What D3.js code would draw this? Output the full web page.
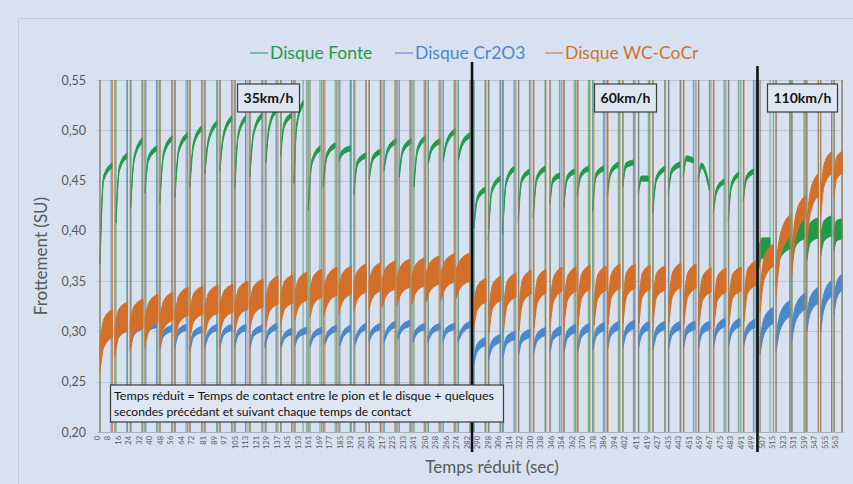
<!DOCTYPE html>
<html>
<head>
<meta charset="utf-8">
<script src="https://cdn.jsdelivr.net/npm/d3@7"></script>
<style>
  html, body { margin: 0; padding: 0; background: #d8e1f0; }
  svg { display: block; font-family: Lato, "Open Sans", sans-serif; }
</style>
</head>
<body>
<svg id="chart" width="853" height="484"></svg>
<script>
// ---- data -------------------------------------------------------------
// Speed zones (boundaries in reduced time, seconds)
const speedBreaks = [285.9, 503.5];
const zoneLabels = ["35km/h", "60km/h", "110km/h"];

// Axis ticks
const yTicks = [0.20, 0.25, 0.30, 0.35, 0.40, 0.45, 0.50, 0.55];
const xTickLabels = [0, 8, 16, 24, 32, 40, 48, 56, 64, 72, 81, 89, 97, 105, 113, 121, 129, 137,
  145, 153, 161, 169, 177, 185, 193, 201, 209, 217, 225, 233, 241, 250, 258, 266, 274, 282,
  290, 298, 306, 314, 322, 330, 338, 346, 354, 362, 370, 378, 386, 394, 402, 411, 419, 427,
  435, 443, 451, 459, 467, 475, 483, 491, 499, 507, 515, 523, 531, 539, 547, 555, 563];

// Contact cycles: [t start, t end, friction at start, friction at knee, friction at end]
const fonteCycles = [
  [2.3, 11.4, 0.370, 0.452, 0.465], [14.5, 22.9, 0.410, 0.462, 0.475], [25.7, 34.5, 0.425, 0.472, 0.490],
  [36.6, 45.5, 0.440, 0.472, 0.482], [48.0, 57.0, 0.430, 0.476, 0.492], [59.5, 68.8, 0.436, 0.480, 0.495],
  [70.9, 79.8, 0.446, 0.486, 0.502], [82.3, 91.3, 0.459, 0.490, 0.507], [93.8, 102.7, 0.462, 0.495, 0.512],
  [105.2, 113.2, 0.445, 0.495, 0.512], [116.6, 125.8, 0.456, 0.497, 0.515], [128.8, 136.5, 0.470, 0.502, 0.520],
  [140.1, 148.4, 0.477, 0.505, 0.515], [150.2, 157.1, 0.450, 0.505, 0.527], [161.1, 170.0, 0.423, 0.468, 0.482],
  [172.5, 181.5, 0.446, 0.475, 0.485], [184.5, 193.4, 0.472, 0.478, 0.482], [195.9, 205.1, 0.439, 0.468, 0.475],
  [207.6, 216.3, 0.453, 0.472, 0.479], [218.8, 228.0, 0.462, 0.480, 0.489], [230.5, 239.4, 0.456, 0.480, 0.489],
  [241.7, 250.1, 0.446, 0.480, 0.492], [252.6, 261.5, 0.469, 0.482, 0.489], [264.0, 272.9, 0.472, 0.488, 0.499],
  [275.5, 284.4, 0.472, 0.486, 0.495],
  [287.4, 295.8, 0.405, 0.432, 0.441], [298.3, 307.2, 0.393, 0.440, 0.452], [309.3, 317.9, 0.399, 0.448, 0.462],
  [321.2, 329.6, 0.412, 0.450, 0.459], [332.6, 341.6, 0.416, 0.452, 0.462], [345.4, 352.5, 0.429, 0.450, 0.455],
  [356.0, 363.7, 0.426, 0.452, 0.459], [366.2, 374.6, 0.436, 0.455, 0.462], [377.9, 386.0, 0.422, 0.455, 0.462],
  [389.1, 397.4, 0.436, 0.458, 0.466], [400.8, 408.9, 0.446, 0.465, 0.468], [412.7, 420.3, 0.439, 0.452, 0.452],
  [423.7, 433.0, 0.420, 0.452, 0.462], [435.6, 444.5, 0.439, 0.460, 0.466], [447.0, 454.6, 0.456, 0.472, 0.470],
  [458.4, 466.8, 0.452, 0.465, 0.443], [469.9, 478.0, 0.419, 0.440, 0.449], [481.3, 488.9, 0.412, 0.445, 0.456],
  [492.7, 500.4, 0.432, 0.452, 0.459],
  [504.3, 513.1, 0.372, 0.383, 0.383], [517.7, 528.3, 0.355, 0.383, 0.392], [529.9, 539.0, 0.375, 0.395, 0.402],
  [541.1, 549.9, 0.380, 0.398, 0.403], [551.7, 560.1, 0.385, 0.400, 0.405], [561.9, 568.0, 0.390, 0.400, 0.402]
];

const cr2o3Cycles = [
  [2.3, 10.7, 0.278, 0.293, 0.300], [13.7, 22.9, 0.284, 0.297, 0.303], [25.9, 34.3, 0.288, 0.300, 0.305],
  [37.4, 45.7, 0.295, 0.304, 0.307], [48.0, 57.2, 0.285, 0.298, 0.303], [59.5, 67.9, 0.287, 0.299, 0.304],
  [70.9, 80.0, 0.283, 0.297, 0.302], [82.3, 91.5, 0.287, 0.298, 0.304], [93.8, 102.9, 0.287, 0.299, 0.304],
  [105.2, 113.6, 0.288, 0.299, 0.304], [116.6, 125.8, 0.286, 0.298, 0.303], [128.1, 137.2, 0.287, 0.299, 0.305],
  [140.3, 148.4, 0.287, 0.295, 0.300], [151.0, 159.9, 0.289, 0.297, 0.301], [162.4, 171.3, 0.287, 0.296, 0.301],
  [173.8, 182.7, 0.290, 0.298, 0.303], [185.3, 192.9, 0.289, 0.297, 0.303], [196.7, 205.1, 0.290, 0.298, 0.305],
  [207.4, 216.3, 0.292, 0.300, 0.305], [218.8, 227.2, 0.292, 0.300, 0.307], [229.5, 238.6, 0.295, 0.303, 0.308],
  [240.9, 250.1, 0.292, 0.300, 0.305], [252.3, 261.5, 0.292, 0.300, 0.305], [263.8, 272.9, 0.293, 0.301, 0.305],
  [275.2, 284.4, 0.292, 0.300, 0.307],
  [287.4, 296.2, 0.272, 0.284, 0.290], [298.5, 307.6, 0.275, 0.287, 0.293], [309.5, 318.7, 0.278, 0.291, 0.296],
  [321.3, 330.1, 0.280, 0.293, 0.298], [332.8, 341.9, 0.281, 0.294, 0.300], [345.4, 353.7, 0.283, 0.296, 0.301],
  [356.0, 364.8, 0.283, 0.297, 0.303], [366.7, 375.5, 0.284, 0.298, 0.304], [378.1, 386.9, 0.286, 0.299, 0.305],
  [389.2, 398.3, 0.286, 0.300, 0.306], [401.0, 409.8, 0.288, 0.301, 0.307], [412.8, 421.2, 0.287, 0.300, 0.306],
  [423.9, 433.0, 0.285, 0.300, 0.306], [435.7, 444.8, 0.286, 0.300, 0.306], [447.1, 455.9, 0.287, 0.301, 0.306],
  [458.6, 467.3, 0.287, 0.301, 0.306], [470.0, 478.8, 0.288, 0.302, 0.309], [481.4, 490.2, 0.288, 0.302, 0.309],
  [492.9, 501.6, 0.289, 0.301, 0.308],
  [505.5, 515.6, 0.285, 0.305, 0.316], [517.7, 528.3, 0.288, 0.310, 0.323], [529.6, 539.8, 0.298, 0.318, 0.330],
  [541.1, 549.9, 0.308, 0.326, 0.336], [551.7, 560.1, 0.308, 0.330, 0.343], [561.9, 568.0, 0.325, 0.340, 0.349]
];

const wcCocrCycles = [
  [2.3, 11.8, 0.275, 0.298, 0.308], [13.7, 23.3, 0.290, 0.308, 0.315], [25.2, 35.1, 0.295, 0.311, 0.318],
  [36.6, 46.5, 0.298, 0.315, 0.323], [48.0, 57.9, 0.300, 0.317, 0.325], [59.5, 69.4, 0.304, 0.322, 0.330],
  [70.9, 80.8, 0.307, 0.324, 0.331], [82.3, 92.2, 0.310, 0.325, 0.332], [93.8, 103.7, 0.312, 0.326, 0.333],
  [105.2, 115.1, 0.314, 0.329, 0.336], [116.6, 126.6, 0.316, 0.331, 0.338], [128.8, 138.0, 0.319, 0.334, 0.341],
  [140.3, 149.4, 0.322, 0.336, 0.342], [151.0, 160.1, 0.326, 0.338, 0.345], [162.4, 171.5, 0.328, 0.341, 0.348],
  [173.1, 183.0, 0.330, 0.342, 0.350], [184.5, 194.0, 0.332, 0.344, 0.351], [195.9, 205.1, 0.334, 0.346, 0.353],
  [207.4, 215.8, 0.336, 0.347, 0.354], [217.3, 227.2, 0.338, 0.349, 0.356], [228.7, 238.6, 0.340, 0.351, 0.358],
  [240.1, 249.3, 0.341, 0.352, 0.359], [250.8, 260.7, 0.343, 0.354, 0.361], [262.3, 272.2, 0.345, 0.356, 0.363],
  [273.7, 284.4, 0.347, 0.357, 0.364],
  [287.0, 296.6, 0.312, 0.333, 0.341], [298.9, 308.0, 0.310, 0.335, 0.343], [309.9, 319.4, 0.312, 0.338, 0.346],
  [321.7, 330.9, 0.313, 0.340, 0.349], [333.2, 342.3, 0.315, 0.341, 0.350], [345.4, 354.5, 0.316, 0.342, 0.352],
  [356.0, 365.2, 0.317, 0.343, 0.352], [366.7, 375.9, 0.318, 0.345, 0.354], [378.9, 388.1, 0.318, 0.344, 0.353],
  [389.6, 398.7, 0.319, 0.346, 0.355], [401.0, 410.2, 0.320, 0.347, 0.355], [413.2, 421.6, 0.320, 0.346, 0.354],
  [423.9, 433.0, 0.320, 0.346, 0.353], [436.1, 445.2, 0.321, 0.347, 0.356], [447.5, 456.7, 0.320, 0.346, 0.355],
  [459.0, 468.1, 0.318, 0.343, 0.351], [470.4, 479.5, 0.318, 0.343, 0.351], [481.8, 491.0, 0.319, 0.345, 0.352],
  [493.3, 502.4, 0.322, 0.350, 0.358],
  [505.5, 515.6, 0.330, 0.362, 0.376], [517.7, 528.3, 0.345, 0.385, 0.405], [529.6, 539.8, 0.365, 0.405, 0.424],
  [541.1, 549.9, 0.395, 0.428, 0.446], [551.7, 560.1, 0.425, 0.455, 0.468], [561.9, 568.0, 0.445, 0.462, 0.468]
];

// Measurement noise half-amplitude (SU) in each speed zone
const fonteNoise = [0.0025, 0.0025, 0.010];
const cr2o3Noise = [0.003, 0.004, 0.008];
const wcCocrNoise = [0.014, 0.012, 0.011];

const seriesNames = ["Disque Fonte", "Disque Cr2O3", "Disque WC-CoCr"];
const noteLines = [
  "Temps réduit = Temps de contact entre le pion et le disque + quelques",
  "secondes précédant et suivant chaque temps de contact"
];

// ---- chart ------------------------------------------------------------
const svg = d3.select("#chart");
const W = 853, H = 484;
const margin = { left: 97, right: 10, top: 80, bottom: 52 };
const colors = { fonte: "#1f9a48", cr2o3: "#4a88cc", wc: "#d2702a" };

const x = d3.scaleLinear().domain([0, 568.7]).range([margin.left, W - margin.right]);
const y = d3.scaleLinear().domain([0.20, 0.55]).range([H - margin.bottom, margin.top]);

// outer chart frame
svg.append("rect").attr("x", 0).attr("y", 0).attr("width", W).attr("height", H).attr("fill", "#d8e1f0");
svg.append("rect").attr("x", 18.5).attr("y", 18.5).attr("width", W).attr("height", H)
  .attr("fill", "none").attr("stroke", "#c3cbd8").attr("stroke-width", 1);

// horizontal gridlines
svg.append("g").selectAll("line").data(yTicks.filter(d => d > 0.2)).join("line")
  .attr("x1", x.range()[0]).attr("x2", x.range()[1])
  .attr("y1", d => Math.round(y(d)) + 0.5).attr("y2", d => Math.round(y(d)) + 0.5)
  .attr("stroke", "#bfc7d5").attr("stroke-width", 1);

// y axis
const yAxis = svg.append("g").attr("transform", `translate(${margin.left},0)`)
  .call(d3.axisLeft(y).tickValues(yTicks).tickSize(0).tickPadding(11)
    .tickFormat(d => d3.format(".2f")(d).replace(".", ",")));
yAxis.select(".domain").remove();
yAxis.selectAll("text").attr("fill", "#595959").style("font-size", "12.5px").style("font-family", "Lato, sans-serif");

// x axis
const xAxis = svg.append("g").attr("transform", `translate(0,${y(0.20)})`)
  .call(d3.axisBottom(x).tickValues(xTickLabels).tickSize(0).tickFormat(d => d));
xAxis.select(".domain").attr("stroke", "#a9b0bc");
xAxis.selectAll("text")
  .attr("transform", "rotate(-90)")
  .attr("x", -4).attr("y", 0).attr("dy", "0.32em")
  .style("text-anchor", "end")
  .attr("fill", "#595959").style("font-size", "7.5px").style("font-family", "Lato, sans-serif");

// clip to plot area
svg.append("clipPath").attr("id", "plotClip").append("rect")
  .attr("x", x.range()[0]).attr("y", y.range()[1])
  .attr("width", x.range()[1] - x.range()[0]).attr("height", y.range()[0] - y.range()[1]);

const KNEE = 0.3;
const zoneOf = t => (t < speedBreaks[0] ? 0 : t < speedBreaks[1] ? 1 : 2);
const band = d3.area()
  .x(d => x(d[0]))
  .y0(d => y(d[1] - d[2]))
  .y1(d => y(d[1] + d[2]))
  .curve(d3.curveMonotoneX);

function drawSeries(cycles, noise, color) {
  const g = svg.append("g").attr("clip-path", "url(#plotClip)");
  // between contacts the signal leaves the scale: full-height jumps
  const edges = cycles.flatMap(c => [c[0], c[1]]);
  g.selectAll("line.jump").data(edges).join("line").attr("class", "jump")
    .attr("x1", d => x(d)).attr("x2", d => x(d))
    .attr("y1", y.range()[1]).attr("y2", y.range()[0])
    .attr("stroke", color).attr("stroke-width", 1).attr("stroke-opacity", 0.7);
  // each contact period as a noisy band
  g.selectAll("path.cycle").data(cycles).join("path").attr("class", "cycle")
    .attr("d", c => {
      const n = noise[zoneOf(c[0])];
      return band([[c[0], c[2], n], [c[0] + KNEE * (c[1] - c[0]), c[3], n], [c[1], c[4], n]]);
    })
    .attr("fill", color).attr("stroke", color).attr("stroke-width", 1).attr("stroke-linejoin", "round");
}

drawSeries(fonteCycles, fonteNoise, colors.fonte);
drawSeries(cr2o3Cycles, cr2o3Noise, colors.cr2o3);
drawSeries(wcCocrCycles, wcCocrNoise, colors.wc);

// speed change separators
svg.append("g").selectAll("line").data(speedBreaks).join("line")
  .attr("x1", d => x(d)).attr("x2", d => x(d))
  .attr("y1", (d, i) => (i === 0 ? 62 : 66)).attr("y2", 452)
  .attr("stroke", "#111").attr("stroke-width", 2.6);

// speed labels
const zoneBoxes = [
  { cx: 268.5, w: 62 },
  { cx: 625.5, w: 62 },
  { cx: 802.5, w: 70 }
];
const zl = svg.append("g");
zoneLabels.forEach((lab, i) => {
  const b = zoneBoxes[i];
  zl.append("rect").attr("x", b.cx - b.w / 2).attr("y", 84).attr("width", b.w).attr("height", 28)
    .attr("fill", "#dfe6f2").attr("stroke", "#3a3a3a").attr("stroke-width", 1.2);
  zl.append("text").attr("x", b.cx).attr("y", 103).attr("text-anchor", "middle")
    .style("font-size", "14px").style("font-weight", "bold").attr("fill", "#111").text(lab);
});

// explanatory note
const note = svg.append("g");
note.append("rect").attr("x", 110.5).attr("y", 385).attr("width", 393).attr("height", 37)
  .attr("fill", "#dfe6f2").attr("stroke", "#3a3a3a").attr("stroke-width", 1.2);
const noteWidths = [380, 297];
noteLines.forEach((line, i) => {
  note.append("text").attr("x", 114).attr("y", 399.5 + i * 16.5)
    .attr("textLength", noteWidths[i]).attr("lengthAdjust", "spacingAndGlyphs")
    .style("font-size", "12px").attr("fill", "#111").text(line);
});

// legend
const legendX = [250, 395, 545];
const legendColors = [colors.fonte, colors.cr2o3, colors.wc];
const lg = svg.append("g");
seriesNames.forEach((name, i) => {
  lg.append("line").attr("x1", legendX[i]).attr("x2", legendX[i] + 18).attr("y1", 53).attr("y2", 53)
    .attr("stroke", legendColors[i]).attr("stroke-width", 1);
  lg.append("text").attr("x", legendX[i] + 20).attr("y", 58.5).style("font-size", "17.5px")
    .attr("fill", legendColors[i]).text(name);
});

// axis titles
svg.append("text").attr("transform", `translate(47,${(y.range()[0] + y.range()[1]) / 2}) rotate(-90)`)
  .attr("text-anchor", "middle").style("font-size", "17px").attr("fill", "#595959").text("Frottement (SU)");
svg.append("text").attr("x", 492).attr("y", 473).attr("text-anchor", "middle")
  .style("font-size", "17px").attr("fill", "#595959").text("Temps réduit (sec)");
</script>
</body>
</html>
